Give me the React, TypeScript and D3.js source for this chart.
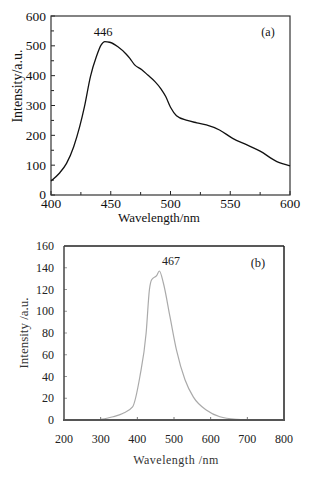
import React, { useEffect, useRef } from 'react'
import * as d3 from 'd3'

// spectrum (a): wavelength in nm, intensity in a.u.
const waveA = [400, 407, 413, 419, 424, 428, 433, 438, 442, 445, 449, 456, 463, 466, 470, 476, 481, 487, 492, 496, 500, 505, 514, 522, 530, 541, 552, 564, 575, 589, 600]
const intensityA = [47, 73, 106, 162, 229, 296, 397, 464, 503, 514, 512, 497, 472, 458, 436, 420, 402, 380, 356, 330, 294, 266, 250, 242, 235, 218, 190, 168, 147, 112, 98]

// spectrum (b)
const waveB = [300, 334, 360, 387, 407, 424, 433, 439, 453, 460, 471, 489, 507, 530, 553, 589, 625, 671, 700, 750, 800]
const intensityB = [0.5, 3, 6, 12, 40, 80, 120, 129, 133, 137, 126, 95, 64, 37, 21, 9, 3, 0.6, 0.2, 0, 0.3]

const ticksAX = [400, 450, 500, 550, 600]
const ticksAY = [0, 100, 200, 300, 400, 500, 600]
const ticksBX = [200, 300, 400, 500, 600, 700, 800]
const ticksBY = [0, 20, 40, 60, 80, 100, 120, 140, 160]

const serif = '"Liberation Serif", "DejaVu Serif", serif'

export default function App() {
    const ref = useRef<SVGSVGElement>(null)

    useEffect(() => {
        const svg = d3.select(ref.current)
        svg.selectAll('*').remove()

        svg.append('rect').attr('width', 312).attr('height', 477).attr('fill', '#fff')

        // ---------- panel (a) ----------
        const xa = d3.scaleLinear().domain([400, 600]).range([51, 290])
        const ya = d3.scaleLinear().domain([0, 600]).range([195, 16])
        const ga = svg.append('g')

        // minor + major ticks, inward
        d3.range(400, 601, 25).forEach(v => {
            ga.append('line')
                .attr('x1', xa(v)).attr('x2', xa(v))
                .attr('y1', 195).attr('y2', 195 - (v % 50 === 0 ? 4 : 3))
                .attr('stroke', '#222').attr('stroke-width', 1)
        })
        d3.range(0, 601, 50).forEach(v => {
            ga.append('line')
                .attr('x1', 51).attr('x2', 51 + (v % 100 === 0 ? 4 : 3))
                .attr('y1', ya(v)).attr('y2', ya(v))
                .attr('stroke', '#222').attr('stroke-width', 1)
        })

        ga.append('rect')
            .attr('x', 51).attr('y', 16)
            .attr('width', 290 - 51).attr('height', 195 - 16)
            .attr('fill', 'none').attr('stroke', '#333').attr('stroke-width', 1.2)

        ga.selectAll('.xl').data(ticksAX).enter().append('text')
            .attr('x', d => xa(d)).attr('y', 208)
            .attr('text-anchor', 'middle')
            .attr('font-family', serif).attr('font-size', 13.5).attr('fill', '#111')
            .text(d => d)
        ga.selectAll('.yl').data(ticksAY).enter().append('text')
            .attr('x', 46).attr('y', d => ya(d) + 4.5 + (d === 0 ? -0.5 : 0))
            .attr('text-anchor', 'end')
            .attr('font-family', serif).attr('font-size', 13.5).attr('fill', '#111')
            .text(d => d)

        const lineA = d3.line<number>()
            .x((d, i) => xa(waveA[i]))
            .y(d => ya(d))
            .curve(d3.curveMonotoneX)
        ga.append('path')
            .attr('d', lineA(intensityA))
            .attr('fill', 'none').attr('stroke', '#111').attr('stroke-width', 1.3)

        ga.append('text').attr('x', 103).attr('y', 36)
            .attr('text-anchor', 'middle')
            .attr('font-family', serif).attr('font-size', 12.5).attr('fill', '#111')
            .text('446')
        ga.append('text').attr('x', 268).attr('y', 36)
            .attr('text-anchor', 'middle')
            .attr('font-family', serif).attr('font-size', 12).attr('fill', '#111')
            .text('(a)')
        ga.append('text').attr('x', 159).attr('y', 222)
            .attr('text-anchor', 'middle')
            .attr('font-family', serif).attr('font-size', 13).attr('fill', '#111')
            .text('Wavelength/nm')
        ga.append('text')
            .attr('transform', 'translate(22,86) rotate(-90)')
            .attr('text-anchor', 'middle')
            .attr('font-family', serif).attr('font-size', 14).attr('fill', '#111')
            .text('Intensity/a.u.')

        // ---------- panel (b) ----------
        const xb = d3.scaleLinear().domain([200, 800]).range([64, 284])
        const yb = d3.scaleLinear().domain([0, 160]).range([420, 246])
        const gb = svg.append('g')

        ticksBX.slice(1, -1).forEach(v => {
            gb.append('line')
                .attr('x1', xb(v)).attr('x2', xb(v))
                .attr('y1', 420).attr('y2', 417)
                .attr('stroke', '#777').attr('stroke-width', 1)
        })
        ticksBY.slice(1, -1).forEach(v => {
            gb.append('line')
                .attr('x1', 64).attr('x2', 67)
                .attr('y1', yb(v)).attr('y2', yb(v))
                .attr('stroke', '#999').attr('stroke-width', 1)
        })

        // frame
        gb.append('line').attr('x1', 64).attr('x2', 284).attr('y1', 246).attr('y2', 246)
            .attr('stroke', '#222').attr('stroke-width', 1.5)
        gb.append('line').attr('x1', 284).attr('x2', 284).attr('y1', 246).attr('y2', 420)
            .attr('stroke', '#222').attr('stroke-width', 1.5)
        gb.append('line').attr('x1', 64).attr('x2', 64).attr('y1', 246).attr('y2', 420)
            .attr('stroke', '#444').attr('stroke-width', 1.5)

        const lineB = d3.line<number>()
            .x((d, i) => xb(waveB[i]))
            .y(d => yb(d))
            .curve(d3.curveMonotoneX)
        gb.append('path')
            .attr('d', lineB(intensityB))
            .attr('fill', 'none').attr('stroke', '#aaa').attr('stroke-width', 1.2)

        gb.append('line').attr('x1', 63).attr('x2', 285).attr('y1', 420).attr('y2', 420)
            .attr('stroke', '#555').attr('stroke-width', 2.2)

        gb.selectAll('.xl').data(ticksBX).enter().append('text')
            .attr('x', d => xb(d)).attr('y', 443)
            .attr('text-anchor', 'middle')
            .attr('font-family', serif).attr('font-size', 12).attr('fill', '#222')
            .text(d => d)
        gb.selectAll('.yl').data(ticksBY).enter().append('text')
            .attr('x', 54).attr('y', d => yb(d) + 4)
            .attr('text-anchor', 'end')
            .attr('font-family', serif).attr('font-size', 12).attr('fill', '#222')
            .text(d => d)

        gb.append('text').attr('x', 171).attr('y', 265)
            .attr('text-anchor', 'middle')
            .attr('font-family', serif).attr('font-size', 12).attr('fill', '#222')
            .text('467')
        gb.append('text').attr('x', 258).attr('y', 267)
            .attr('text-anchor', 'middle')
            .attr('font-family', serif).attr('font-size', 12.5).attr('fill', '#222')
            .text('(b)')
        gb.append('text').attr('x', 176).attr('y', 464)
            .attr('text-anchor', 'middle')
            .attr('font-family', serif).attr('font-size', 12).attr('letter-spacing', 0.5)
            .attr('fill', '#333')
            .text('Wavelength /nm')
        gb.append('text')
            .attr('transform', 'translate(28,333) rotate(-90)')
            .attr('text-anchor', 'middle')
            .attr('font-family', serif).attr('font-size', 13).attr('fill', '#333')
            .text('Intensity /a.u.')
    }, [])

    return (
        <svg ref={ref} width={312} height={477}
            style={{ position: 'absolute', left: 0, top: 0, display: 'block' }} />
    )
}
